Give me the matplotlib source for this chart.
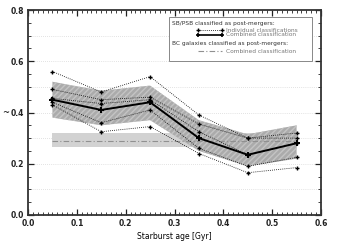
import matplotlib
matplotlib.use("Agg")
import matplotlib.pyplot as plt
import numpy as np

# ---- data ----
ages = [0.05, 0.15, 0.25, 0.35, 0.45, 0.55]
indiv_1 = [0.56, 0.48, 0.54, 0.39, 0.30, 0.32]
indiv_2 = [0.49, 0.45, 0.46, 0.355, 0.30, 0.30]
indiv_3 = [0.455, 0.435, 0.45, 0.325, 0.235, 0.28]
indiv_4 = [0.44, 0.36, 0.41, 0.26, 0.19, 0.225]
indiv_5 = [0.43, 0.325, 0.345, 0.24, 0.165, 0.185]
combined = [0.45, 0.41, 0.44, 0.30, 0.235, 0.28]
combined_hi = [0.52, 0.485, 0.505, 0.37, 0.315, 0.35]
combined_lo = [0.38, 0.35, 0.37, 0.25, 0.19, 0.22]
bc_x = [0.05, 0.55]
bc_val = [0.29, 0.29]
bc_hi = [0.32, 0.32]
bc_lo = [0.265, 0.265]

xticks = [0.0, 0.1, 0.2, 0.3, 0.4, 0.5, 0.6]
yticks = [0.0, 0.2, 0.4, 0.6, 0.8]

W, H = 350, 249
fig = plt.figure(figsize=(W / 100, H / 100), dpi=100)
L, R, T, B = 28, 321, 10, 215
ax = fig.add_axes([L / W, 1 - B / H, (R - L) / W, (B - T) / H])

fs = 5.5
ax.set_xlim(0, 0.6)
ax.set_ylim(0, 0.8)

# horizontal dotted grid
for g in np.arange(0.1, 0.8, 0.1):
    ax.axhline(g, color='#c8c8c8', lw=0.5, ls=(0, (1, 2)), zorder=0)

ax.fill_between(bc_x, bc_lo, bc_hi, color='#d2d2d2', lw=0, zorder=1)
ax.fill_between(ages, combined_lo, combined_hi, facecolor='#ababab',
                edgecolor='#c4c4c4', hatch='//////', lw=0, zorder=2)
ax.plot(bc_x, bc_val, color='#909090', lw=0.8, ls=(0, (5, 2, 1, 2)), zorder=3)

for s in [indiv_1, indiv_2, indiv_3, indiv_4, indiv_5]:
    ax.plot(ages, s, color='black', lw=0.6, ls=(0, (1, 1.5)), marker='+',
            ms=3.5, mew=1.0, zorder=4)
ax.plot(ages, combined, color='black', lw=1.4, marker='+', ms=4.5, mew=1.4, zorder=5)

# ticks
ax.set_xticks(xticks)
ax.set_yticks(yticks)
ax.set_xticks(np.arange(0, 0.6001, 0.01), minor=True)
ax.set_yticks(np.arange(0, 0.8001, 0.05), minor=True)
ax.set_xticklabels([f"{v:.1f}" for v in xticks], fontsize=fs, fontweight='bold')
ax.set_yticklabels([f"{v:.1f}" for v in yticks], fontsize=fs, fontweight='bold')
ax.tick_params(which='both', direction='in', top=True, right=True, colors='#222222')
ax.tick_params(which='major', length=4, width=0.9, pad=3)
ax.tick_params(which='minor', length=2, width=0.6)
for sp in ax.spines.values():
    sp.set_linewidth(1.3)
    sp.set_color('#333333')

ax.set_xlabel('Starburst age [Gyr]', fontsize=fs, labelpad=3)
ax.text(-0.078, 0.5, '~', transform=ax.transAxes, fontsize=6, ha='center',
        va='center')

# legend (drawn in axes coordinates)
def ax_pt(px, py):
    return ((px - L) / (R - L), (B - py) / (B - T))

x0, y0 = ax_pt(169, 61)
x1, y1 = ax_pt(312, 17)
ax.add_patch(plt.Rectangle((x0, y0), x1 - x0, y1 - y0, transform=ax.transAxes,
                           facecolor='white', edgecolor='#888888', lw=0.7, zorder=6))
lfs = 4.2
def ltext(px, py, s, c):
    x, y = ax_pt(px, py)
    ax.text(x, y, s, transform=ax.transAxes, fontsize=lfs, color=c, va='center',
            ha='left', zorder=7)

def lline(py, **kw):
    xa, y = ax_pt(198, py)
    xb, _ = ax_pt(222, py)
    ax.plot([xa, xb], [y, y], transform=ax.transAxes, zorder=7, clip_on=False, **kw)

ltext(172, 23, 'SB/PSB classified as post-mergers:', '#333333')
lline(30, color='black', lw=0.6, ls=(0, (1, 1.5)), marker='+', ms=3, mew=1.0)
ltext(226, 30, 'Individual classifications', '#777777')
lline(34.5, color='black', lw=1.2, marker='+', ms=3.5, mew=1.2)
ltext(226, 34.5, 'Combined classification', '#777777')
ltext(172, 43, 'BC galaxies classified as post-mergers:', '#333333')
lline(51, color='#909090', lw=0.8, ls=(0, (5, 2, 1, 2)))
ltext(226, 51, 'Combined classification', '#777777')

fig.savefig('out.png', dpi=100)
